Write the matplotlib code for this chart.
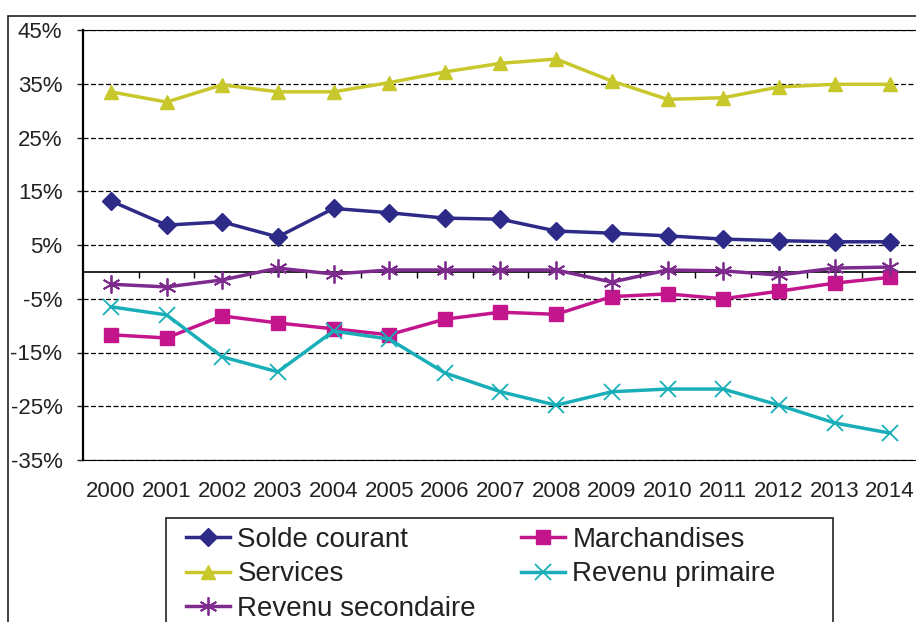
import matplotlib
matplotlib.use("Agg")
import matplotlib.pyplot as plt
from matplotlib.patches import Rectangle
import numpy as np

plt.rcParams['font.family'] = ['Liberation Sans', 'DejaVu Sans']

years = [str(y) for y in range(2000, 2015)]

solde_courant = [13.2, 8.7, 9.3, 6.5, 11.8, 11.0, 10.0, 9.8, 7.6, 7.2, 6.7, 6.1, 5.8, 5.6, 5.6]
marchandises = [-11.7, -12.3, -8.2, -9.5, -10.6, -11.7, -8.8, -7.5, -7.9, -4.6, -4.1, -5.0, -3.6, -2.1, -1.0]
services = [33.5, 31.6, 34.8, 33.5, 33.5, 35.2, 37.2, 38.8, 39.6, 35.5, 32.1, 32.4, 34.4, 34.9, 34.9]
revenu_primaire = [-6.5, -8.0, -15.8, -18.6, -11.0, -12.5, -18.8, -22.3, -24.8, -22.3, -21.8, -21.8, -24.8, -28.1, -30.0]
revenu_secondaire = [-2.3, -2.8, -1.5, 0.7, -0.4, 0.35, 0.35, 0.35, 0.35, -1.9, 0.35, 0.2, -0.6, 0.7, 0.9]

yticks = list(range(-35, 46, 10))

W, H = 916, 622
fig = plt.figure(figsize=(W / 100, H / 100), dpi=100)
ax = fig.add_axes([83 / W, 1 - 460 / H, 835 / W, 430 / H])

x = np.arange(len(years))
lw = 2.5
l1, = ax.plot(x, solde_courant, color='#2E2A88', lw=lw, marker='D', ms=9.5, label='Solde courant')
l2, = ax.plot(x, marchandises, color='#C4168C', lw=lw, marker='s', ms=10, label='Marchandises')
l3, = ax.plot(x, services, color='#C8C82C', lw=lw, marker='^', ms=10.5, label='Services')
l4, = ax.plot(x, revenu_primaire, color='#1AAFB8', lw=lw, marker='x', ms=11, mew=1.3, label='Revenu primaire')
l5, = ax.plot(x, revenu_secondaire, color='#7E2B8E', lw=lw, marker=(6, 2, 0), ms=13, mew=1.3, label='Revenu secondaire')

ax.set_xlim(-0.5, len(years) - 0.5)
ax.set_ylim(-35, 45)
ax.set_yticks(yticks)
ax.set_yticklabels(['%d%%' % v for v in yticks])
ax.set_xticks(x)
ax.set_xticklabels(years)
ax.grid(axis='y', color='black', linestyle=(0, (4, 2)), lw=0.9)
ax.set_axisbelow(True)

for s in ['top', 'bottom']:
    ax.spines[s].set_linewidth(0.8)
ax.spines['right'].set_visible(False)
ax.spines['left'].set_linewidth(1.6)

ax.tick_params(axis='y', direction='out', length=4.3, width=1.0, pad=10.5, labelsize=16, colors='#222222')
ax.tick_params(axis='x', length=0, pad=15, labelsize=16, colors='#222222')

# zero line with category boundary ticks
ymin, ymax = ax.get_ylim()
frac = (0 - ymin) / (ymax - ymin)
sec = ax.secondary_xaxis(frac)
sec.spines['bottom'].set_linewidth(1.2)
sec.set_xticks(x[:-1] + 0.5)
sec.set_xticklabels([])
sec.tick_params(direction='out', length=4, width=1.0)

# outer chart frame and legend frame (both cropped by the picture edge)
fig.patches.append(Rectangle((8 / W, -0.2), 2, 1 - 16 / H + 0.2, transform=fig.transFigure,
                             fill=False, lw=1.2, edgecolor='#222222'))
fig.patches.append(Rectangle((166 / W, -0.2), (833 - 166) / W, 1 - 518 / H + 0.2,
                             transform=fig.transFigure, fill=False, lw=1.2, edgecolor='#222222'))

leg = fig.legend(handles=[l1, l3, l5, l2, l4], loc='upper left',
                 bbox_to_anchor=(186 / W, 1 - 527 / H), ncol=2, fontsize=20,
                 frameon=False, borderpad=0,
                 handlelength=1.6, handletextpad=0.25, columnspacing=1.62, labelspacing=0.3,
                 borderaxespad=0)
for t in leg.get_texts():
    t.set_color('#222222')

fig.savefig('out.png', dpi=100)
